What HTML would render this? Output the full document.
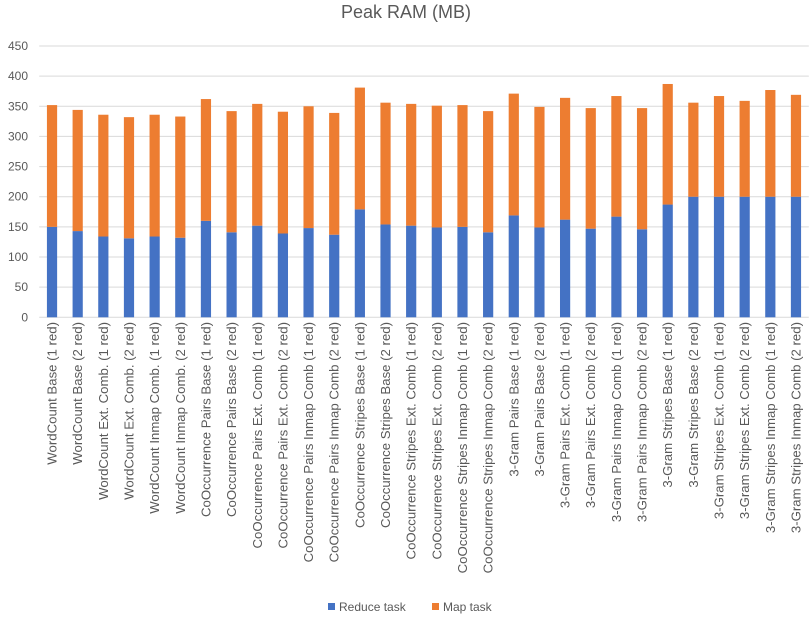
<!DOCTYPE html>
<html><head><meta charset="utf-8"><style>
body{margin:0;background:#fff;font-family:"Liberation Sans",Arial,sans-serif}
svg text{font-family:"Liberation Sans",Arial,sans-serif}
</style></head><body>
<svg id="chart" width="812" height="618" xmlns="http://www.w3.org/2000/svg">
<text x="406" y="18" text-anchor="middle" font-size="18" fill="#595959">Peak RAM (MB)</text>
<g id="grid"></g><g id="bars"></g><g id="xl"></g>
<g>
<rect x="328" y="603" width="7" height="7" fill="#4472c4"/>
<text x="339" y="611" font-size="12" fill="#595959">Reduce task</text>
<rect x="432" y="603" width="7" height="7" fill="#ed7d31"/>
<text x="443" y="611" font-size="12" fill="#595959">Map task</text>
</g>
</svg>
<script>
const categories=["WordCount Base (1 red)","WordCount Base (2 red)","WordCount Ext. Comb. (1 red)","WordCount Ext. Comb. (2 red)","WordCount Inmap Comb. (1 red)","WordCount Inmap Comb. (2 red)","CoOccurrence Pairs Base (1 red)","CoOccurrence Pairs Base (2 red)","CoOccurrence Pairs Ext. Comb (1 red)","CoOccurrence Pairs Ext. Comb (2 red)","CoOccurrence Pairs Inmap Comb (1 red)","CoOccurrence Pairs Inmap Comb (2 red)","CoOccurrence Stripes Base (1 red)","CoOccurrence Stripes Base (2 red)","CoOccurrence Stripes Ext. Comb (1 red)","CoOccurrence Stripes Ext. Comb (2 red)","CoOccurrence Stripes Inmap Comb (1 red)","CoOccurrence Stripes Inmap Comb (2 red)","3-Gram Pairs Base (1 red)","3-Gram Pairs Base (2 red)","3-Gram Pairs Ext. Comb (1 red)","3-Gram Pairs Ext. Comb (2 red)","3-Gram Pairs Inmap Comb (1 red)","3-Gram Pairs Inmap Comb (2 red)","3-Gram Stripes Base (1 red)","3-Gram Stripes Base (2 red)","3-Gram Stripes Ext. Comb (1 red)","3-Gram Stripes Ext. Comb (2 red)","3-Gram Stripes Inmap Comb (1 red)","3-Gram Stripes Inmap Comb (2 red)"];
const reduceTask=[150,143,134,131,134,132,160,141,152,139,148,137,179,154,152,149,150,141,169,149,162,147,167,146,187,200,200,200,200,200];
const mapTask=[202,201,202,201,202,201,202,201,202,202,202,202,202,202,202,202,202,201,202,200,202,200,200,201,200,156,167,159,177,169];
const yTicks=[0,50,100,150,200,250,300,350,400,450];
const NS="http://www.w3.org/2000/svg";
const x0=39.2,x1=808.8,yBase=317.3,yTop=46;
const bw=(x1-x0)/categories.length;
function y(v){return yBase-(v/450)*(yBase-yTop);}
function xc(i){return x0+bw*(i+0.5);}
function mk(t,a,p){const e=document.createElementNS(NS,t);for(const k in a)e.setAttribute(k,a[k]);p.appendChild(e);return e;}
const grid=document.getElementById('grid'),bars=document.getElementById('bars'),xl=document.getElementById('xl');
yTicks.forEach(v=>{
 const l=mk('line',{x1:x0,x2:x1,y1:y(v),y2:y(v),stroke:'#d9d9d9','stroke-width':1},grid);
 
 
 const t=mk('text',{x:28,y:y(v)+4,'text-anchor':'end','font-size':12,fill:'#595959'},grid);
 t.textContent=v;
 
 
});
const barW=10.2;
categories.forEach((c,i)=>{
 const r=mk('rect',{x:xc(i)-barW/2,y:y(reduceTask[i]),width:barW,height:yBase-y(reduceTask[i]),fill:'#4472c4'},bars);
 
 
 const tot=reduceTask[i]+mapTask[i];
 const m=mk('rect',{x:xc(i)-barW/2,y:y(tot),width:barW,height:y(reduceTask[i])-y(tot),fill:'#ed7d31'},bars);
 
 
 const t=mk('text',{transform:`translate(${xc(i)+4.5},322) rotate(-90)`,'text-anchor':'end','font-size':13.2,fill:'#595959'},xl);
 t.textContent=c;
 
 
});
</script>
</body></html>
